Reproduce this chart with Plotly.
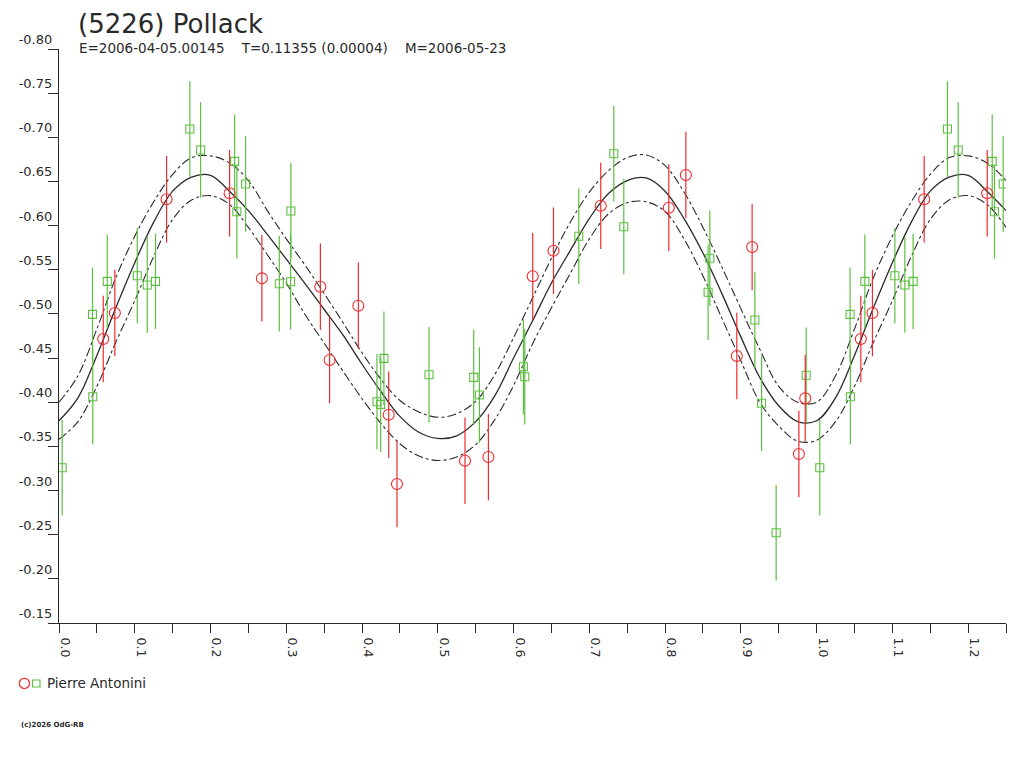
import plotly.graph_objects as go

# ---------------- data ----------------
TITLE = "(5226) Pollack"
SUBTITLE = "E=2006-04-05.00145\u00a0\u00a0\u00a0\u00a0T=0.11355 (0.00004)\u00a0\u00a0\u00a0\u00a0M=2006-05-23"
OBSERVER = "Pierre Antonini"
COPYRIGHT = "(c)2026 OdG-RB"

# session 1 (red circles)
red_phase = [0.0584, 0.0737, 0.1420, 0.2252, 0.2678, 0.3450, 0.3572, 0.3951,
             0.4352, 0.4461, 0.5359, 0.5668, 0.6253, 0.6527, 0.7151, 0.8049,
             0.8274, 0.8947, 0.9149, 0.9766, 0.9850]
red_mag = [-0.4716, -0.5010, -0.6298, -0.6366, -0.5403, -0.5308, -0.4478, -0.5093,
           -0.3858, -0.3074, -0.3338, -0.3379, -0.5426, -0.5716, -0.6225, -0.6203,
           -0.6573, -0.4523, -0.5758, -0.3413, -0.4044]
red_err = [0.049, 0.049, 0.049, 0.049, 0.049, 0.049, 0.049, 0.049,
           0.049, 0.049, 0.049, 0.049, 0.049, 0.049, 0.049, 0.049,
           0.049, 0.049, 0.049, 0.049, 0.049]

# session 2 (green squares)
green_phase = [0.0042, 0.0442, 0.0446, 0.0637, 0.1033, 0.1165, 0.1274, 0.1727,
               0.1869, 0.2318, 0.2348, 0.2463, 0.2908, 0.3057, 0.3061, 0.4197,
               0.4246, 0.4289, 0.4884, 0.5474, 0.5549, 0.6130, 0.6148, 0.6861,
               0.7323, 0.7455, 0.8568, 0.8591, 0.9185, 0.9274, 0.9466, 0.9863]
green_mag = [-0.3258, -0.4995, -0.4062, -0.5369, -0.5433, -0.5327, -0.5369, -0.7094,
             -0.6856, -0.6728, -0.6157, -0.6471, -0.5342, -0.5365, -0.6165, -0.4006,
             -0.3976, -0.4497, -0.4311, -0.4282, -0.4082, -0.4402, -0.4289, -0.5879,
             -0.6814, -0.5988, -0.5245, -0.5630, -0.4931, -0.3988, -0.2522, -0.4305]
green_err = [0.054, 0.053, 0.054, 0.053, 0.054, 0.054, 0.054, 0.054,
             0.054, 0.053, 0.053, 0.054, 0.054, 0.054, 0.054, 0.054,
             0.054, 0.053, 0.054, 0.054, 0.054, 0.054, 0.054, 0.054,
             0.054, 0.054, 0.054, 0.054, 0.054, 0.054, 0.054, 0.054]

# fitted light curve and its uncertainty envelope, read every 0.025 in phase
curve_phase = [0.000, 0.025, 0.050, 0.075, 0.100, 0.125, 0.150, 0.175, 0.200, 0.225,
               0.250, 0.275, 0.300, 0.325, 0.350, 0.375, 0.400, 0.425, 0.450, 0.475,
               0.500, 0.525, 0.550, 0.575, 0.600, 0.625, 0.650, 0.675, 0.700, 0.725,
               0.750, 0.775, 0.800, 0.825, 0.850, 0.875, 0.900, 0.925, 0.950, 0.975,
               1.000]
curve_mid = [-0.379, -0.405, -0.453, -0.507, -0.558, -0.604, -0.639, -0.655, -0.657, -0.639,
             -0.617, -0.590, -0.562, -0.534, -0.505, -0.476, -0.443, -0.412, -0.384, -0.366,
             -0.359, -0.362, -0.378, -0.407, -0.450, -0.492, -0.535, -0.572, -0.608, -0.636,
             -0.651, -0.654, -0.639, -0.608, -0.569, -0.523, -0.474, -0.428, -0.396, -0.378,
             -0.379]
curve_upper = [-0.400, -0.430, -0.483, -0.541, -0.588, -0.627, -0.658, -0.677, -0.679, -0.671,
               -0.651, -0.617, -0.585, -0.555, -0.523, -0.490, -0.456, -0.426, -0.402, -0.389,
               -0.383, -0.387, -0.401, -0.431, -0.473, -0.518, -0.563, -0.604, -0.638, -0.662,
               -0.677, -0.680, -0.668, -0.638, -0.598, -0.553, -0.506, -0.460, -0.418, -0.400,
               -0.400]
curve_lower = [-0.358, -0.378, -0.418, -0.468, -0.515, -0.565, -0.607, -0.629, -0.634, -0.624,
               -0.598, -0.567, -0.535, -0.499, -0.467, -0.435, -0.404, -0.376, -0.353, -0.339,
               -0.334, -0.338, -0.352, -0.380, -0.419, -0.466, -0.507, -0.546, -0.585, -0.613,
               -0.626, -0.627, -0.616, -0.585, -0.543, -0.495, -0.447, -0.400, -0.373, -0.356,
               -0.357]

x_tick_vals = [0.0, 0.1, 0.2, 0.3, 0.4, 0.5, 0.6, 0.7, 0.8, 0.9, 1.0, 1.1, 1.2]
x_tick_text = ["0.0", "0.1", "0.2", "0.3", "0.4", "0.5", "0.6", "0.7", "0.8", "0.9",
               "1.0", "1.1", "1.2"]
y_tick_vals = [-0.80, -0.75, -0.70, -0.65, -0.60, -0.55, -0.50, -0.45, -0.40, -0.35,
               -0.30, -0.25, -0.20, -0.15]
y_tick_text = ["-0.80", "-0.75", "-0.70", "-0.65", "-0.60", "-0.55", "-0.50", "-0.45",
               "-0.40", "-0.35", "-0.30", "-0.25", "-0.20", "-0.15"]

X_RANGE = [0.0, 1.25]
Y_RANGE = [-0.15, -0.80]   # magnitudes: brighter at the top

# ---------------- layout helpers ----------------
OFF = 8                      # page body margin of the html page
W, H = 1024 - OFF, 768 - OFF
ML, MT = 59 - OFF, 49 - OFF
MR = W - (1006 - OFF)
MB = H - (623 - OFF)
PW, PH = W - ML - MR, H - MT - MB


def px(xp):
    """screen x (page pixels) -> paper x"""
    return (xp - OFF - ML) / PW


def py(yp):
    """screen y (page pixels) -> paper y"""
    return 1 - (yp - OFF - MT) / PH


def extend(ph, *cols, limit=0.25):
    """phase-fold display: repeat the first quarter of the cycle after phase 1."""
    out_ph = list(ph)
    out_cols = [list(c) for c in cols]
    for i, p in enumerate(ph):
        if p < limit:
            out_ph.append(p + 1.0)
            for oc, c in zip(out_cols, cols):
                oc.append(c[i])
    return (out_ph, *out_cols)


def extend_curve(ph, vals):
    xs = list(ph)
    ys = list(vals)
    for p, v in zip(ph, vals):
        if 0 < p <= 0.25:
            xs.append(p + 1.0)
            ys.append(v)
    return xs, ys


RED = "#ee2b2f"
GREEN = "#5dbf41"
INK = "#2a2a2a"
FONT = "DejaVu Sans, Verdana, sans-serif"

fig = go.Figure()

# curves
for vals, dash, width in [(curve_upper, "dashdot", 1.1), (curve_lower, "dashdot", 1.1),
                          (curve_mid, "solid", 1.3)]:
    cx, cy = extend_curve(curve_phase, vals)
    fig.add_trace(go.Scatter(x=cx, y=cy, mode="lines", line_shape="spline",
                             line=dict(color=INK, width=width, dash=dash),
                             showlegend=False, hoverinfo="skip"))

# observations
gx, gy, ge = extend(green_phase, green_mag, green_err)
fig.add_trace(go.Scatter(
    x=gx, y=gy, mode="markers",
    marker=dict(symbol="square-open", size=8, color=GREEN, line=dict(width=1.1, color=GREEN)),
    error_y=dict(type="data", array=ge, visible=True, color=GREEN, thickness=1.2, width=0),
    showlegend=False))

rx, ry, re_ = extend(red_phase, red_mag, red_err)
fig.add_trace(go.Scatter(
    x=rx, y=ry, mode="markers",
    marker=dict(symbol="circle-open", size=11, color=RED, line=dict(width=1.1, color=RED)),
    error_y=dict(type="data", array=re_, visible=True, color=RED, thickness=1.2, width=0),
    showlegend=False))

fig.update_xaxes(
    range=X_RANGE, tickmode="array", tickvals=x_tick_vals, ticktext=x_tick_text,
    tickangle=90, ticks="outside", ticklen=9, tickwidth=1, tickcolor=INK,
    minor=dict(dtick=0.05, tick0=0, ticks="outside", ticklen=9, tickwidth=1, tickcolor=INK),
    showline=True, linecolor=INK, linewidth=1.2, showgrid=False, zeroline=False,
    tickfont=dict(family=FONT, size=12.5, color=INK), ticklabelshift=6, ticklabelstandoff=2)

fig.update_yaxes(
    range=Y_RANGE, tickmode="array", tickvals=y_tick_vals, ticktext=y_tick_text,
    ticks="outside", ticklen=10, tickwidth=1, tickcolor=INK,
    ticklabelposition="outside top", ticklabelstandoff=3,
    showline=True, linecolor=INK, linewidth=1.2, showgrid=False, zeroline=False,
    tickfont=dict(family=FONT, size=13, color=INK))

annotations = [
    dict(text=TITLE, x=px(77), y=py(OFF), xref="paper", yref="paper", xanchor="left",
         yanchor="top", showarrow=False, borderpad=0,
         font=dict(family=FONT, size=26, color=INK)),
    dict(text=SUBTITLE, x=px(77), y=py(48), xref="paper", yref="paper", xanchor="left",
         yanchor="middle", showarrow=False, font=dict(family=FONT, size=13.5, color=INK)),
    dict(text=OBSERVER, x=px(45), y=py(683), xref="paper", yref="paper", xanchor="left",
         yanchor="middle", showarrow=False, font=dict(family=FONT, size=13.5, color=INK)),
    dict(text="<b>" + COPYRIGHT + "</b>", x=px(19), y=py(725), xref="paper", yref="paper",
         xanchor="left", yanchor="middle", showarrow=False,
         font=dict(family=FONT, size=7, color=INK)),
]

shapes = [
    dict(type="circle", xref="paper", yref="paper", x0=px(19.3), x1=px(29.5),
         y0=py(688.5), y1=py(678.3), line=dict(color=RED, width=1.2)),
    dict(type="rect", xref="paper", yref="paper", x0=px(32.5), x1=px(40),
         y0=py(687), y1=py(680), line=dict(color=GREEN, width=1.2)),
]

fig.update_layout(
    width=W, height=H, margin=dict(l=ML, r=MR, t=MT, b=MB),
    paper_bgcolor="white", plot_bgcolor="white",
    annotations=annotations, shapes=shapes, showlegend=False,
    font=dict(family=FONT, color=INK))

fig.write_html("out.html")
